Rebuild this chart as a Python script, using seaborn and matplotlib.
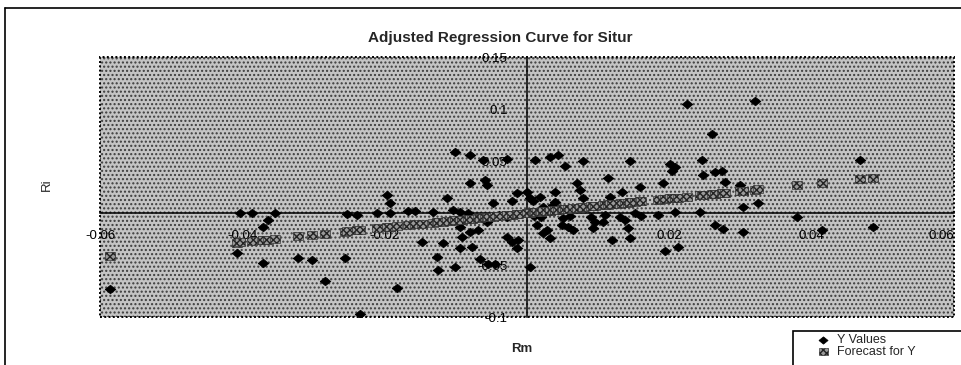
import matplotlib
matplotlib.use("Agg")
import matplotlib.pyplot as plt
from matplotlib.patches import Rectangle
from matplotlib.lines import Line2D
import pandas as pd
import seaborn as sns

# Market return (Rm), stock return (Ri) and the fitted regression forecast
rm = [
    -0.0586, -0.0407, -0.0403, -0.0386, -0.0371, -0.0371, -0.0364, -0.0354,
    -0.0322, -0.0302, -0.0284, -0.0256, -0.0253, -0.0239, -0.0235, -0.0211,
    -0.0197, -0.0193, -0.0192, -0.0183, -0.0167, -0.0157, -0.0148, -0.0132,
    -0.0126, -0.0125, -0.0118, -0.0112, -0.0104, -0.0101, -0.0101, -0.0094,
    -0.0094, -0.0094, -0.0091, -0.0083, -0.0080, -0.0080, -0.0080, -0.0077,
    -0.0069, -0.0066, -0.0062, -0.0059, -0.0056, -0.0056, -0.0055, -0.0048,
    -0.0045, -0.0040, -0.0028, -0.0028, -0.0028, -0.0021, -0.0021, -0.0014,
    -0.0014, -0.0013, 0.0000, 0.0004, 0.0004, 0.0008, 0.0010, 0.0011,
    0.0014, 0.0018, 0.0020, 0.0022, 0.0022, 0.0028, 0.0032, 0.0032,
    0.0037, 0.0039, 0.0039, 0.0044, 0.0049, 0.0050, 0.0053, 0.0058,
    0.0060, 0.0065, 0.0070, 0.0074, 0.0079, 0.0079, 0.0090, 0.0093,
    0.0096, 0.0107, 0.0110, 0.0114, 0.0117, 0.0119, 0.0130, 0.0133,
    0.0138, 0.0142, 0.0145, 0.0145, 0.0152, 0.0159, 0.0160, 0.0184,
    0.0191, 0.0194, 0.0201, 0.0204, 0.0208, 0.0208, 0.0212, 0.0225,
    0.0243, 0.0246, 0.0247, 0.0260, 0.0264, 0.0264, 0.0274, 0.0275,
    0.0278, 0.0299, 0.0304, 0.0304, 0.0320, 0.0325, 0.0379, 0.0415,
    0.0468, 0.0486,
]

ri = [
    -0.073, -0.038, 0.000, 0.000, -0.0136, -0.0485, -0.007, 0.000,
    -0.0437, -0.0456, -0.065, -0.043, -0.001, -0.002, -0.097, 0.000,
    0.0175, 0.0097, 0.000, -0.072, 0.002, 0.002, -0.028, 0.001,
    -0.042, -0.055, -0.029, 0.0146, 0.003, 0.059, -0.052, 0.001,
    -0.034, -0.0136, -0.023, 0.000, 0.056, 0.029, -0.018, -0.033,
    -0.0165, -0.0447, 0.051, 0.032, 0.027, -0.0087, -0.0495, 0.0097,
    -0.0495, -0.002, 0.052, -0.004, -0.023, 0.012, -0.028, 0.019,
    -0.034, -0.026, 0.020, 0.0146, -0.0515, 0.012, -0.003, 0.051,
    -0.012, 0.0155, -0.004, 0.006, -0.019, -0.0165, 0.054, -0.024,
    0.008, 0.020, 0.011, 0.056, -0.012, -0.005, 0.045, -0.0136,
    -0.003, -0.0165, 0.029, 0.022, 0.050, 0.0146, -0.004, -0.0146,
    -0.009, -0.0087, -0.002, 0.034, 0.0155, -0.026, -0.004, 0.020,
    -0.007, -0.0146, 0.050, -0.024, 0.000, 0.025, -0.003, -0.002,
    0.029, -0.037, 0.047, 0.040, 0.044, 0.001, -0.033, 0.105,
    0.001, 0.051, 0.037, 0.076, 0.039, -0.0117, 0.040, -0.0155,
    0.030, 0.027, 0.006, -0.018, 0.108, 0.0097, -0.004, -0.0165,
    0.051, -0.0136,
]

forecast = [
    -0.0410, -0.0285, -0.0282, -0.0270, -0.0260, -0.0260, -0.0255, -0.0248,
    -0.0225, -0.0211, -0.0199, -0.0179, -0.0177, -0.0167, -0.0165, -0.0148,
    -0.0138, -0.0135, -0.0134, -0.0128, -0.0117, -0.0110, -0.0104, -0.0092,
    -0.0088, -0.0088, -0.0083, -0.0078, -0.0073, -0.0071, -0.0071, -0.0066,
    -0.0066, -0.0066, -0.0064, -0.0058, -0.0056, -0.0056, -0.0056, -0.0054,
    -0.0048, -0.0046, -0.0043, -0.0041, -0.0039, -0.0039, -0.0039, -0.0034,
    -0.0032, -0.0028, -0.0020, -0.0020, -0.0020, -0.0015, -0.0015, -0.0010,
    -0.0010, -0.0009, 0.0000, 0.0003, 0.0003, 0.0006, 0.0007, 0.0008,
    0.0010, 0.0013, 0.0014, 0.0015, 0.0015, 0.0020, 0.0022, 0.0022,
    0.0026, 0.0027, 0.0027, 0.0031, 0.0034, 0.0035, 0.0037, 0.0041,
    0.0042, 0.0046, 0.0049, 0.0052, 0.0055, 0.0055, 0.0063, 0.0065,
    0.0067, 0.0075, 0.0077, 0.0080, 0.0082, 0.0083, 0.0091, 0.0093,
    0.0097, 0.0099, 0.0102, 0.0102, 0.0106, 0.0111, 0.0112, 0.0129,
    0.0134, 0.0136, 0.0141, 0.0143, 0.0146, 0.0146, 0.0148, 0.0158,
    0.0170, 0.0172, 0.0173, 0.0182, 0.0185, 0.0185, 0.0192, 0.0193,
    0.0195, 0.0209, 0.0213, 0.0213, 0.0224, 0.0228, 0.0265, 0.0291,
    0.0328, 0.0340,
]

x_ticks = [-0.06, -0.04, -0.02, 0.02, 0.04, 0.06]
x_tick_labels = ["-0.06", "-0.04", "-0.02", "0.02", "0.04", "0.06"]
y_ticks = [-0.1, -0.05, 0.05, 0.1, 0.15]
y_tick_labels = ["-0.1", "-0.05", "0.05", "0.1", "0.15"]

sns.set_style("white")
plt.rcParams["font.family"] = ["Liberation Sans", "DejaVu Sans"]
plt.rcParams["hatch.linewidth"] = 1.0

W, H = 962, 365
fig = plt.figure(figsize=(W / 100, H / 100), dpi=100)
ax = fig.add_axes([100 / W, 1 - 317 / H, 854 / W, 260 / H])
ax.set_facecolor("white")

# dotted grey plot area
ax.add_patch(Rectangle((0, 0), 1, 1, transform=ax.transAxes, facecolor="#c4c4c4",
                       edgecolor="#3c3c3c", hatch="....", lw=0, zorder=0))

df = pd.DataFrame({"Rm": rm, "Ri": ri, "Forecast": forecast})

diamond = [(-1, 0), (0, 0.8), (1, 0), (0, -0.8), (-1, 0)]
block = [(-1, -0.8), (1, -0.8), (1, 0.8), (-1, 0.8), (-1, -0.8)]

sns.scatterplot(data=df, x="Rm", y="Ri", marker=diamond, s=60, color="black",
                edgecolor="black", linewidth=0.5, label="Y Values", ax=ax, zorder=3)
sns.scatterplot(data=df, x="Rm", y="Forecast", marker=block, s=52, color="#9a9a9a",
                edgecolor="#222222", hatch="xxxxx", linewidth=0.4,
                label="Forecast for Y", ax=ax, zorder=4)

handles, labels = ax.get_legend_handles_labels()
if ax.get_legend() is not None:
    ax.get_legend().remove()

ax.set_xlim(-0.06, 0.06)
ax.set_ylim(-0.1, 0.15)

# axes crossing at the origin
for side in ["top", "right"]:
    ax.spines[side].set_visible(False)
for side in ["left", "bottom"]:
    ax.spines[side].set_position(("data", 0))
    ax.spines[side].set_color("black")
    ax.spines[side].set_linewidth(1.1)
    ax.spines[side].set_zorder(2)

ax.set_xticks(x_ticks)
ax.set_xticklabels(x_tick_labels)
ax.set_yticks(y_ticks)
ax.set_yticklabels(y_tick_labels)
ax.tick_params(axis="both", direction="inout", length=8, width=1, colors="black",
               labelsize=9.5)
ax.tick_params(axis="x", pad=8)
ax.tick_params(axis="y", pad=10)
ax.get_xticklabels()[-1].set_horizontalalignment("right")
ax.set_xlabel("")
ax.set_ylabel("")

# dotted frame of the plot area
ax.add_patch(Rectangle((0, 0), 1, 1, transform=ax.transAxes, fill=False,
                       ls=(0, (1, 1.2)), lw=1.4, ec="black", zorder=5, clip_on=False))

fig.text(500 / W, 1 - 38 / H, "Adjusted Regression Curve for Situr", ha="center",
         va="center", fontsize=11, fontweight="bold")
fig.text(522 / W, 1 - 349 / H, "Rm", ha="center", va="center", fontsize=9.5,
         fontweight="bold")
fig.text(47 / W, 1 - 185 / H, "Ri", ha="center", va="center", fontsize=9.5,
         rotation=90)

# outer chart border
fig.add_artist(Line2D([5 / W, 5 / W], [0, 1 - 8 / H], color="black", lw=1.2))
fig.add_artist(Line2D([5 / W, 1], [1 - 8 / H, 1 - 8 / H], color="black", lw=1.2))

# legend box in the lower right corner
fig.add_artist(Rectangle((793 / W, -0.05), 0.3, 1 - 331 / H + 0.05,
                         transform=fig.transFigure, fill=False, ec="black", lw=1.2))
fig.legend(handles, labels, loc="upper left", bbox_to_anchor=(817 / W, 1 - 334 / H),
           frameon=False, fontsize=9, borderaxespad=0, borderpad=0,
           labelspacing=0.0, handlelength=1.0, handletextpad=0.6, scatterpoints=1,
           markerscale=0.85)

fig.savefig("out.png", dpi=100)
